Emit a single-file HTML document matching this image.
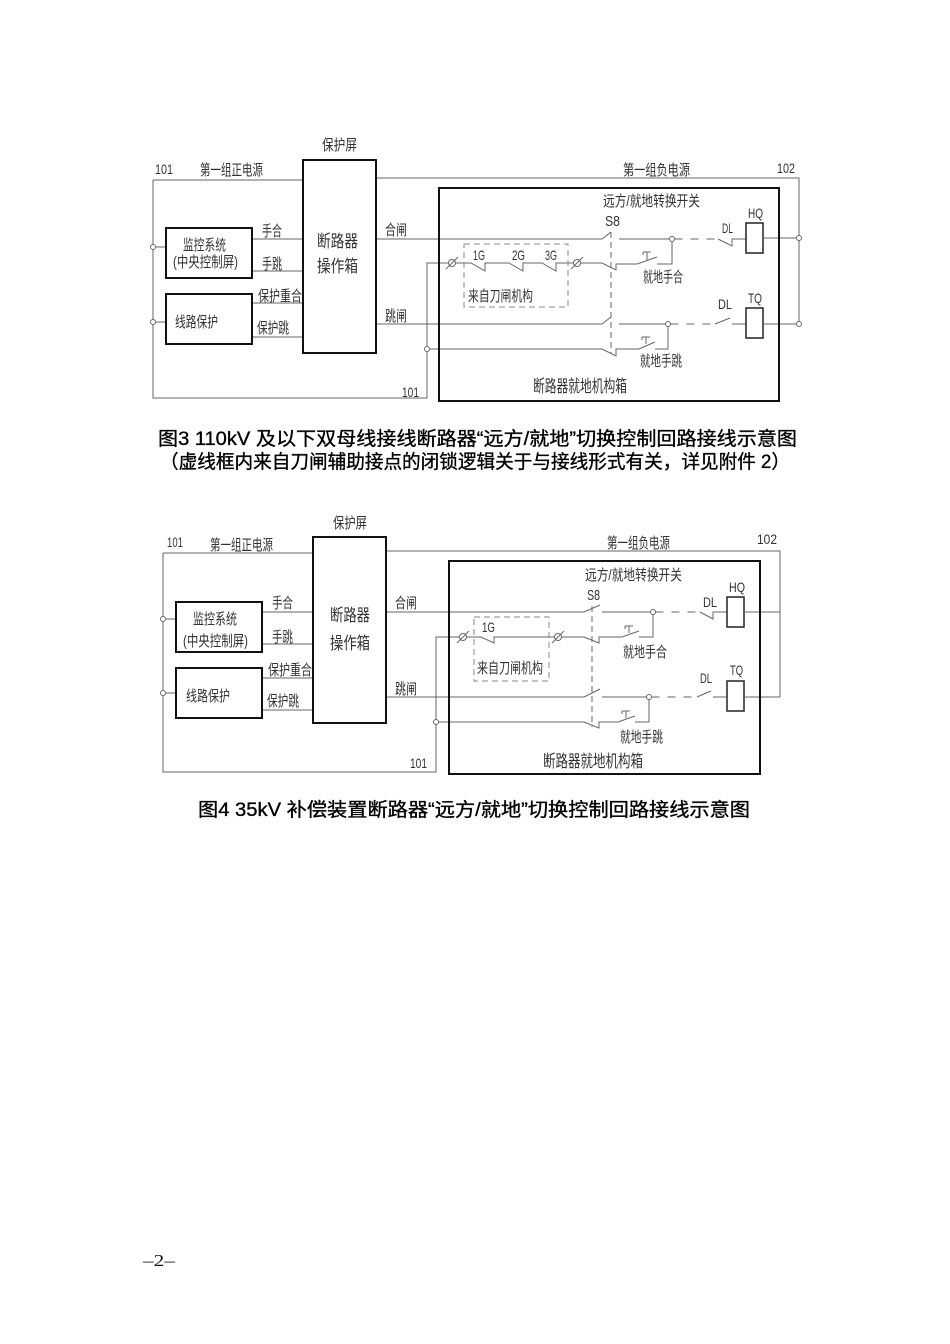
<!DOCTYPE html>
<html>
<head>
<meta charset="utf-8">
<style>
html,body{margin:0;padding:0;background:#fff;}
svg{display:block;}
.t{font-family:"Liberation Sans","Noto Sans CJK SC",sans-serif;fill:#333;font-size:15px;}
.l{font-size:14px;}
.b{font-size:17px;}
.cap{font-family:"Liberation Sans","Noto Sans CJK SC",sans-serif;fill:#000;font-size:19px;stroke:#000;stroke-width:0.35px;}
.pg{font-family:"Liberation Serif","Noto Serif CJK SC",serif;fill:#111;font-size:17px;}
.ln{fill:none;stroke:#666;stroke-width:1;}
.dl{fill:none;stroke:#666;stroke-width:1;stroke-dasharray:8,8;}
.dv{fill:none;stroke:#666;stroke-width:1;stroke-dasharray:6,4;}
.bx{fill:none;stroke:#111;stroke-width:2;}
.cb{fill:none;stroke:#222;stroke-width:1.5;}
.c{fill:#fff;stroke:#666;stroke-width:1;}
</style>
</head>
<body>
<svg width="950" height="1344" viewBox="0 0 950 1344" xmlns="http://www.w3.org/2000/svg">
<rect width="950" height="1344" fill="#fff"/>

<!-- ================= DIAGRAM 1 ================= -->
<g>
<path class="ln" d="M153,180 H303"/>
<path class="ln" d="M153,180 V398 H427 V263 H448.5"/>
<path class="ln" d="M376,178 H799 V324"/>
<path class="ln" d="M155.5,247 H166 M155.5,322 H166"/>
<path class="ln" d="M252,239 H303 M252,271 H303 M252,303 H303 M252,337 H303"/>
<!-- 合闸 row -->
<path class="ln" d="M376,239 H602 L611,232 M619,239 H669.5"/>
<path class="dl" d="M674.5,239 H718"/>
<path class="ln" d="M718,239 L732,246 V239 H746"/>
<rect class="cb" x="746" y="223" width="17" height="30"/>
<path class="ln" d="M763,238 H796.5"/>
<!-- ∅ row -->
<path class="ln" d="M455.5,263 H471 L485,271 V263 H509 L523,271 V263 H542 L556,271 V263 H573.5"/>
<path class="ln" d="M580.5,263 H602 L616,270 V264 H637 L657,257"/>
<path class="ln" d="M643,252 H651 M643,252 V255 M647,252 V260"/>
<path class="ln" d="M672,241.5 V264 H657"/>
<!-- 跳闸 row -->
<path class="ln" d="M376,324 H602 L611,317 M619,324 H665.5"/>
<path class="dl" d="M670.5,324 H715"/>
<path class="ln" d="M715,324 L730,318 M732,324 H746"/>
<rect class="cb" x="746" y="308" width="17" height="30"/>
<path class="ln" d="M763,324 H796.5"/>
<!-- row 4 -->
<path class="ln" d="M429.5,349 H602 L616,356 V349 H639 L655,342"/>
<path class="ln" d="M642,337 H650 M642,337 V340 M646,337 V344"/>
<path class="ln" d="M655,349 H668 V326.5"/>
<path class="dv" d="M611,232 V353"/>
<rect x="464" y="244" width="104" height="63" fill="none" stroke="#888" stroke-width="1" stroke-dasharray="6,4"/>
<rect class="bx" x="439" y="188" width="340" height="213"/>
<rect class="bx" x="303" y="160" width="73" height="193" fill="#fff"/>
<rect class="bx" x="166" y="228" width="86" height="50"/>
<rect class="bx" x="166" y="294" width="86" height="50"/>
<circle class="c" cx="153" cy="247" r="2.5"/>
<circle class="c" cx="153" cy="322" r="2.5"/>
<circle class="c" cx="427" cy="349" r="2.5"/>
<circle class="c" cx="672" cy="239" r="2.5"/>
<circle class="c" cx="668" cy="324" r="2.5"/>
<circle class="c" cx="799" cy="238" r="2.5"/>
<circle class="c" cx="799" cy="324" r="2.5"/>
<circle class="c" cx="452" cy="263" r="3.5"/>
<path class="ln" d="M446,269 L458,257"/>
<circle class="c" cx="577" cy="263" r="3.5"/>
<path class="ln" d="M571,269 L583,257"/>
<!-- texts -->
<text class="t" x="322" y="150" textLength="35" lengthAdjust="spacingAndGlyphs">保护屏</text>
<text class="t l" x="155" y="174" textLength="18" lengthAdjust="spacingAndGlyphs">101</text>
<text class="t" x="200" y="175" textLength="63" lengthAdjust="spacingAndGlyphs">第一组正电源</text>
<text class="t" x="623" y="175" textLength="67" lengthAdjust="spacingAndGlyphs">第一组负电源</text>
<text class="t l" x="777" y="173" textLength="18" lengthAdjust="spacingAndGlyphs">102</text>
<text class="t" x="262" y="236" textLength="20" lengthAdjust="spacingAndGlyphs">手合</text>
<text class="t" x="262" y="269" textLength="20" lengthAdjust="spacingAndGlyphs">手跳</text>
<text class="t" x="258" y="301" textLength="44" lengthAdjust="spacingAndGlyphs">保护重合</text>
<text class="t" x="257" y="333" textLength="32" lengthAdjust="spacingAndGlyphs">保护跳</text>
<text class="t" x="183" y="250" textLength="43" lengthAdjust="spacingAndGlyphs">监控系统</text>
<text class="t" x="173" y="267" textLength="65" lengthAdjust="spacingAndGlyphs">(中央控制屏)</text>
<text class="t" x="175" y="327" textLength="43" lengthAdjust="spacingAndGlyphs">线路保护</text>
<text class="t b" x="317" y="247" textLength="41" lengthAdjust="spacingAndGlyphs">断路器</text>
<text class="t b" x="317" y="272" textLength="41" lengthAdjust="spacingAndGlyphs">操作箱</text>
<text class="t" x="385" y="235" textLength="22" lengthAdjust="spacingAndGlyphs">合闸</text>
<text class="t" x="385" y="321" textLength="22" lengthAdjust="spacingAndGlyphs">跳闸</text>
<text class="t l" x="402" y="397" textLength="17" lengthAdjust="spacingAndGlyphs">101</text>
<text class="t" x="603" y="206" textLength="97" lengthAdjust="spacingAndGlyphs">远方/就地转换开关</text>
<text class="t" x="605" y="226" textLength="15" lengthAdjust="spacingAndGlyphs">S8</text>
<text class="t l" x="473" y="260" textLength="12" lengthAdjust="spacingAndGlyphs">1G</text>
<text class="t l" x="512" y="260" textLength="13" lengthAdjust="spacingAndGlyphs">2G</text>
<text class="t l" x="545" y="260" textLength="12" lengthAdjust="spacingAndGlyphs">3G</text>
<text class="t" x="468" y="301" textLength="65" lengthAdjust="spacingAndGlyphs">来自刀闸机构</text>
<text class="t" x="643" y="282" textLength="40" lengthAdjust="spacingAndGlyphs">就地手合</text>
<text class="t" x="640" y="366" textLength="42" lengthAdjust="spacingAndGlyphs">就地手跳</text>
<text class="t b" x="533" y="392" textLength="94" lengthAdjust="spacingAndGlyphs">断路器就地机构箱</text>
<text class="t l" x="722" y="233" textLength="11" lengthAdjust="spacingAndGlyphs">DL</text>
<text class="t l" x="748" y="218" textLength="15" lengthAdjust="spacingAndGlyphs">HQ</text>
<text class="t l" x="718" y="309" textLength="14" lengthAdjust="spacingAndGlyphs">DL</text>
<text class="t l" x="748" y="303" textLength="14" lengthAdjust="spacingAndGlyphs">TQ</text>
</g>

<text class="cap" x="158" y="445" textLength="639" lengthAdjust="spacingAndGlyphs">图3 110kV 及以下双母线接线断路器“远方/就地”切换控制回路接线示意图</text>
<text class="cap" x="160" y="468" textLength="630" lengthAdjust="spacingAndGlyphs">（虚线框内来自刀闸辅助接点的闭锁逻辑关于与接线形式有关，详见附件 2）</text>

<!-- ================= DIAGRAM 2 ================= -->
<g>
<path class="ln" d="M163,553 H313"/>
<path class="ln" d="M163,553 V772 H436 V637 H459.5"/>
<path class="ln" d="M386,551 H780 V697"/>
<path class="ln" d="M165.5,619 H176 M165.5,693 H176"/>
<path class="ln" d="M262,612 H313 M262,644 H313 M262,678 H313 M262,710 H313"/>
<path class="ln" d="M386,612 H584 L600,605 M602,612 H650.5"/>
<path class="dl" d="M655.5,612 H700"/>
<path class="ln" d="M700,612 L713,619 V612 H727"/>
<rect class="cb" x="727" y="597" width="17" height="30"/>
<path class="ln" d="M744,612 H780"/>
<path class="ln" d="M466.5,637 H481 L494,643 V637 H554.5"/>
<path class="ln" d="M561.5,637 H584 L599,643 V637 H622 L639,631"/>
<path class="ln" d="M625,626 H633 M625,626 V629 M629,626 V633"/>
<path class="ln" d="M639,637 H653 V614.5"/>
<path class="ln" d="M386,697 H584 L600,689 M602,697 H646.5"/>
<path class="dl" d="M651.5,697 H697"/>
<path class="ln" d="M697,697 L711,691 M713,697 H727"/>
<rect class="cb" x="727" y="681" width="17" height="30"/>
<path class="ln" d="M744,697 H780"/>
<path class="ln" d="M438.5,722 H584 L599,728 V722 H618 L635,716"/>
<path class="ln" d="M622,711 H630 M622,711 V714 M626,711 V718"/>
<path class="ln" d="M635,722 H649 V699.5"/>
<path class="dv" d="M592,606 V727"/>
<rect x="474" y="617" width="75" height="64" fill="none" stroke="#888" stroke-width="1" stroke-dasharray="6,4"/>
<rect class="bx" x="449" y="561" width="311" height="213"/>
<rect class="bx" x="313" y="537" width="73" height="186" fill="#fff"/>
<rect class="bx" x="176" y="602" width="86" height="50"/>
<rect class="bx" x="176" y="668" width="86" height="50"/>
<circle class="c" cx="163" cy="619" r="2.5"/>
<circle class="c" cx="163" cy="693" r="2.5"/>
<circle class="c" cx="436" cy="722" r="2.5"/>
<circle class="c" cx="653" cy="612" r="2.5"/>
<circle class="c" cx="649" cy="697" r="2.5"/>
<circle class="c" cx="463" cy="637" r="3.5"/>
<path class="ln" d="M457,643 L469,631"/>
<circle class="c" cx="558" cy="637" r="3.5"/>
<path class="ln" d="M552,643 L564,631"/>
<text class="t" x="333" y="528" textLength="34" lengthAdjust="spacingAndGlyphs">保护屏</text>
<text class="t l" x="167" y="547" textLength="16" lengthAdjust="spacingAndGlyphs">101</text>
<text class="t" x="210" y="550" textLength="63" lengthAdjust="spacingAndGlyphs">第一组正电源</text>
<text class="t" x="607" y="548" textLength="63" lengthAdjust="spacingAndGlyphs">第一组负电源</text>
<text class="t l" x="757" y="544" textLength="20" lengthAdjust="spacingAndGlyphs">102</text>
<text class="t" x="272" y="608" textLength="21" lengthAdjust="spacingAndGlyphs">手合</text>
<text class="t" x="272" y="642" textLength="21" lengthAdjust="spacingAndGlyphs">手跳</text>
<text class="t" x="268" y="675" textLength="44" lengthAdjust="spacingAndGlyphs">保护重合</text>
<text class="t" x="267" y="706" textLength="32" lengthAdjust="spacingAndGlyphs">保护跳</text>
<text class="t" x="193" y="624" textLength="44" lengthAdjust="spacingAndGlyphs">监控系统</text>
<text class="t" x="183" y="646" textLength="65" lengthAdjust="spacingAndGlyphs">(中央控制屏)</text>
<text class="t" x="186" y="701" textLength="44" lengthAdjust="spacingAndGlyphs">线路保护</text>
<text class="t b" x="330" y="621" textLength="40" lengthAdjust="spacingAndGlyphs">断路器</text>
<text class="t b" x="330" y="649" textLength="40" lengthAdjust="spacingAndGlyphs">操作箱</text>
<text class="t" x="395" y="608" textLength="22" lengthAdjust="spacingAndGlyphs">合闸</text>
<text class="t" x="395" y="694" textLength="22" lengthAdjust="spacingAndGlyphs">跳闸</text>
<text class="t l" x="410" y="768" textLength="17" lengthAdjust="spacingAndGlyphs">101</text>
<text class="t" x="585" y="580" textLength="97" lengthAdjust="spacingAndGlyphs">远方/就地转换开关</text>
<text class="t" x="587" y="600" textLength="13" lengthAdjust="spacingAndGlyphs">S8</text>
<text class="t l" x="482" y="632" textLength="13" lengthAdjust="spacingAndGlyphs">1G</text>
<text class="t" x="477" y="673" textLength="66" lengthAdjust="spacingAndGlyphs">来自刀闸机构</text>
<text class="t" x="623" y="657" textLength="44" lengthAdjust="spacingAndGlyphs">就地手合</text>
<text class="t" x="620" y="742" textLength="43" lengthAdjust="spacingAndGlyphs">就地手跳</text>
<text class="t b" x="543" y="767" textLength="100" lengthAdjust="spacingAndGlyphs">断路器就地机构箱</text>
<text class="t l" x="703" y="607" textLength="14" lengthAdjust="spacingAndGlyphs">DL</text>
<text class="t l" x="729" y="592" textLength="16" lengthAdjust="spacingAndGlyphs">HQ</text>
<text class="t l" x="700" y="683" textLength="12" lengthAdjust="spacingAndGlyphs">DL</text>
<text class="t l" x="730" y="675" textLength="13" lengthAdjust="spacingAndGlyphs">TQ</text>
</g>

<text class="cap" x="198" y="816" textLength="552" lengthAdjust="spacingAndGlyphs">图4 35kV 补偿装置断路器“远方/就地”切换控制回路接线示意图</text>

<text class="pg" x="143" y="1266" textLength="32" lengthAdjust="spacingAndGlyphs">–2–</text>
</svg>
</body>
</html>
